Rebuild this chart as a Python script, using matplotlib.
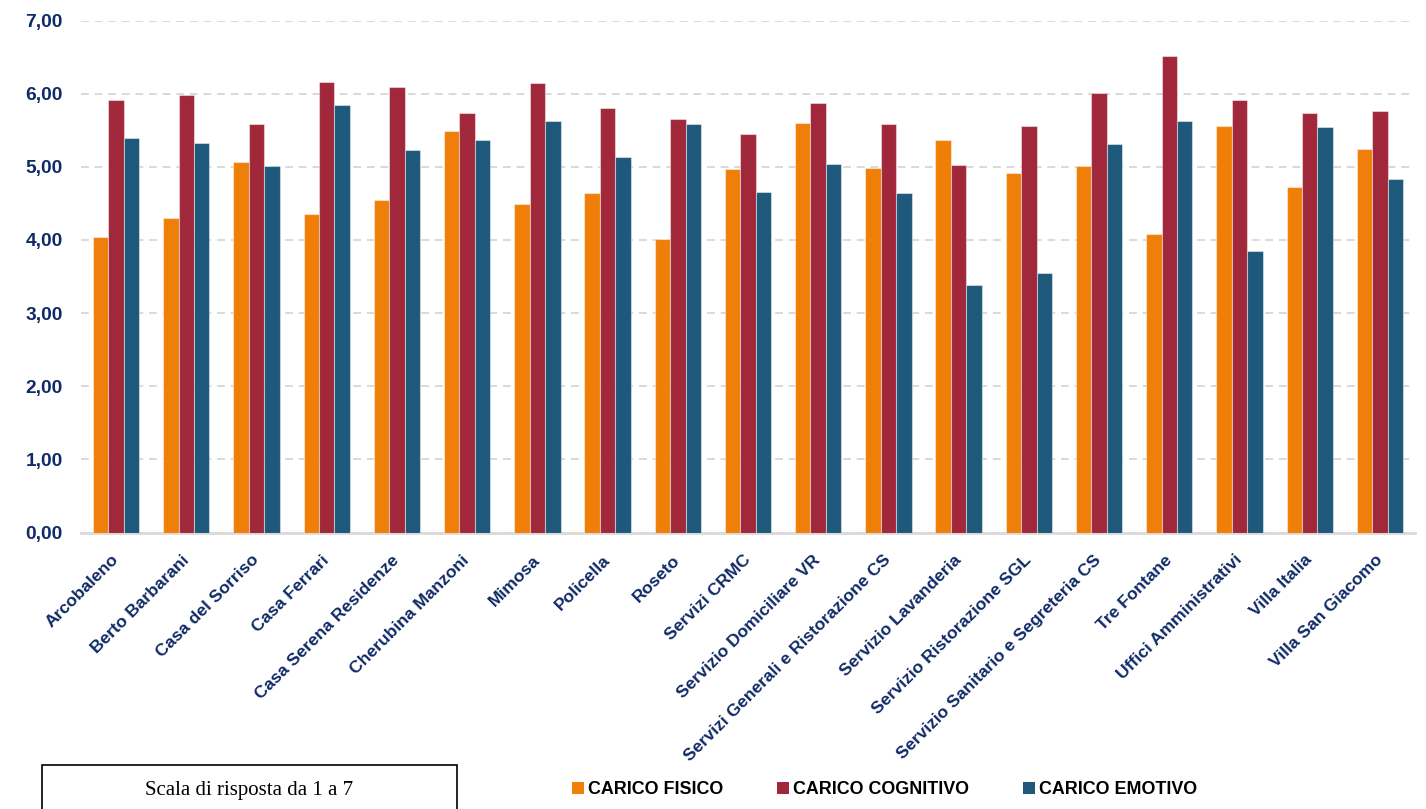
import matplotlib
matplotlib.use("Agg")
import matplotlib.pyplot as plt
import numpy as np
from matplotlib import font_manager
from matplotlib.patches import Rectangle

categories = ["Arcobaleno", "Berto Barbarani", "Casa del Sorriso", "Casa Ferrari",
              "Casa Serena Residenze", "Cherubina Manzoni", "Mimosa", "Policella",
              "Roseto", "Servizi CRMC", "Servizio Domiciliare VR",
              "Servizi Generali e Ristorazione CS", "Servizio Lavanderia",
              "Servizio Ristorazione SGL", "Servizio Sanitario e Segreteria CS",
              "Tre Fontane", "Uffici Amministrativi", "Villa Italia", "Villa San Giacomo"]

carico_fisico = [4.04, 4.30, 5.06, 4.35, 4.54, 5.49, 4.49, 4.64, 4.01, 4.97,
                 5.60, 4.99, 5.36, 4.92, 5.01, 4.08, 5.56, 4.72, 5.25]
carico_cognitivo = [5.91, 5.98, 5.58, 6.16, 6.09, 5.73, 6.15, 5.80, 5.65, 5.45,
                    5.87, 5.58, 5.02, 5.56, 6.01, 6.51, 5.91, 5.73, 5.76]
carico_emotivo = [5.40, 5.33, 5.01, 5.85, 5.23, 5.36, 5.62, 5.13, 5.58, 4.66,
                  5.04, 4.64, 3.38, 3.55, 5.31, 5.62, 3.85, 5.55, 4.83]

series_names = ["CARICO FISICO", "CARICO COGNITIVO", "CARICO EMOTIVO"]
y_ticks = [0, 1, 2, 3, 4, 5, 6, 7]
y_tick_labels = ["0,00", "1,00", "2,00", "3,00", "4,00", "5,00", "6,00", "7,00"]
note_text = "Scala di risposta da 1 a 7"

colors = ["#F07F0A", "#A0283A", "#1E587A"]
navy = "#0F2A66"

available = {f.name for f in font_manager.fontManager.ttflist}
narrow = "Liberation Sans Narrow" if "Liberation Sans Narrow" in available else "Liberation Sans"
narrow_scale = 1.0 if narrow == "Liberation Sans Narrow" else 0.86

W, H = 1426, 809
fig = plt.figure(figsize=(W / 100, H / 100), dpi=100)
ax = fig.add_axes([81 / W, 1 - 532.5 / H, 1334 / W, 512 / H])

x = np.arange(len(categories))
bw = 0.22
for i, (vals, col, name) in enumerate(zip([carico_fisico, carico_cognitivo, carico_emotivo],
                                           colors, series_names)):
    ax.bar(x + (i - 1) * bw, vals, width=bw, color=col, label=name,
           edgecolor=(1, 1, 1, 0.45), linewidth=0.8, zorder=3)

ax.set_xlim(-0.5, len(categories) - 0.5)
ax.set_ylim(0, 7)
ax.set_yticks(y_ticks)
ax.set_yticklabels(y_tick_labels, fontfamily=narrow, fontweight="bold",
                   fontsize=16 * narrow_scale, color=navy)
ax.yaxis.grid(True, color="#D9D9D9", linestyle=(0, (4, 3)), linewidth=1.4, zorder=0)
ax.tick_params(axis="y", length=0, pad=13)
ax.tick_params(axis="x", length=0, pad=18)
ax.set_xticks(x)
ax.set_xticklabels(categories, rotation=45, ha="right", va="center",
                   rotation_mode="anchor", fontfamily="Liberation Sans",
                   fontweight="bold", fontsize=12.6, color=navy)
for side in ["top", "right", "left"]:
    ax.spines[side].set_visible(False)
ax.spines["bottom"].set_color("#D9D9D9")
ax.spines["bottom"].set_linewidth(2)

leg = fig.legend(loc="center left", bbox_to_anchor=(563 / W, 1 - 790 / H),
                 ncol=3, frameon=False, borderpad=0, handlelength=0.65,
                 handleheight=0.65, handletextpad=0.25, columnspacing=3.0,
                 prop={"family": narrow, "weight": "bold", "size": 15 * narrow_scale})
for h in leg.legend_handles:
    h.set_edgecolor("none")

box = Rectangle((42 / W, -0.02), (457 - 42) / W, 0.02 + (809 - 765) / H,
                transform=fig.transFigure, fill=False, edgecolor="black",
                linewidth=1.2, clip_on=False)
fig.add_artist(box)
fig.text(249.5 / W, 1 - 790 / H, note_text, ha="center", va="center",
         fontfamily="Liberation Serif", fontsize=15, color="black")

fig.savefig("out.png", dpi=100)
